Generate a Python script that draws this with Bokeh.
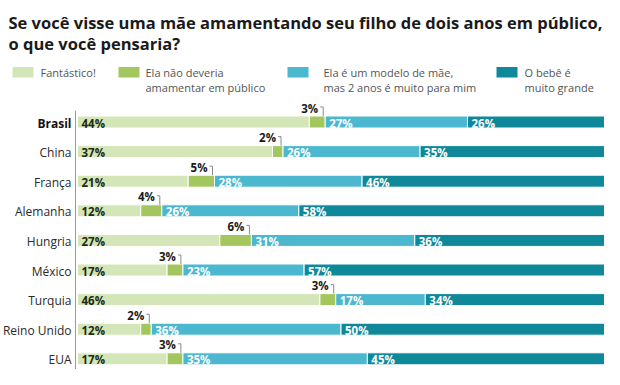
import numpy as np
from bokeh.plotting import figure
from bokeh.models import Range1d, ColumnDataSource
from bokeh.core.properties import value
from bokeh.embed import file_html
from bokeh.resources import INLINE

# ---------------- data ----------------
countries = ["Brasil", "China", "França", "Alemanha", "Hungria", "México",
             "Turquia", "Reino Unido", "EUA"]
fantastico = [44, 37, 21, 12, 27, 17, 46, 12, 17]
nao_deveria = [3, 2, 5, 4, 6, 3, 3, 2, 3]
modelo = [27, 26, 28, 26, 31, 23, 17, 36, 35]
grande = [26, 35, 46, 58, 36, 57, 34, 50, 45]

series_keys = ["fantastico", "nao_deveria", "modelo", "grande"]
series_lines = [["Fantástico!"],
                ["Ela não deveria", "amamentar em público"],
                ["Ela é um modelo de mãe,", "mas 2 anos é muito para mim"],
                ["O bebê é", "muito grande"]]
colors = ["#d4e6b7", "#a3c65e", "#4cb8cf", "#0f899a"]

title_lines = ["Se você visse uma mãe amamentando seu filho de dois anos em público,",
               "o que você pensaria?"]

# ---------------- layout ----------------
W, H = 604, 369
X0_PX = 77                  # frame x of 0%
X100_PX = 604               # frame x of 100%
PX_PER_PCT = (X100_PX - X0_PX) / 100
ROW0_PX = 121.5             # frame y of first row
ROW_STEP = 29.6             # pixels between rows
FONT = "Open Sans"

x_start = -X0_PX / PX_PER_PCT
x_end = 100 + (W - X100_PX) / PX_PER_PCT
y_bottom = (H - ROW0_PX) / ROW_STEP
y_top = -ROW0_PX / ROW_STEP
bar_h = 12 / ROW_STEP
px = 1 / PX_PER_PCT         # one pixel in percent units
py = 1 / ROW_STEP           # one pixel in row units

p = figure(width=W, height=H, x_range=Range1d(x_start, x_end),
           y_range=Range1d(y_bottom, y_top), output_backend="svg",
           toolbar_location=None, x_axis_location=None, y_axis_location=None,
           min_border=0, title=None)
p.outline_line_color = None
p.grid.visible = False
p.background_fill_color = "white"
p.extra_x_ranges = {"px": Range1d(0, W)}
p.extra_y_ranges = {"py": Range1d(H, 0)}

rows = list(range(len(countries)))
data = dict(y=rows, fantastico=fantastico, nao_deveria=nao_deveria,
            modelo=modelo, grande=grande)
src = ColumnDataSource(data)

p.hbar_stack(series_keys, y="y", height=bar_h, color=colors,
             line_color="white", line_width=1, source=src)

vals = np.array([fantastico, nao_deveria, modelo, grande], dtype=float)
starts = np.vstack([np.zeros(vals.shape[1]), np.cumsum(vals, axis=0)[:-1]])

# labels inside bars (all except the small green segment)
lab_x, lab_y, lab_t, lab_c = [], [], [], []
for k in [0, 2, 3]:
    for i in rows:
        lab_x.append(starts[k, i])
        lab_y.append(i)
        lab_t.append(f"{int(vals[k, i])}%")
        lab_c.append("#1e2a12" if k == 0 else "white")
p.text(x="x", y="y", text="t", text_color="c",
       source=ColumnDataSource(dict(x=lab_x, y=lab_y, t=lab_t, c=lab_c)),
       text_font=value(FONT), text_font_size="11.5px", text_font_style="bold",
       text_baseline="middle", text_align="left", x_offset=4, y_offset=1)

# labels above the green segment with bracket
g_end = starts[1] + vals[1]
label_row_off = 14 * py
p.text(x=list(g_end), y=[i - label_row_off for i in rows],
       text=[f"{v}%" for v in nao_deveria],
       text_font=value(FONT), text_font_size="11.5px", text_font_style="bold",
       text_color="#1a1a1a", text_baseline="middle", text_align="right",
       x_offset=-7)
xs = [[e - 5 * px, e - 2 * px, e - 2 * px] for e in g_end]
ys = [[i - label_row_off - 1 * py, i - label_row_off - 1 * py, i - bar_h / 2] for i in rows]
p.multi_line(xs, ys, line_color="#8a8a8a", line_width=1)

# country names
styles = ["bold" if c == "Brasil" else "normal" for c in countries]
tcolors = ["#111111" if c == "Brasil" else "#2a2a2a" for c in countries]
p.text(x=[71] * len(countries), y=rows, text=countries,
       x_range_name="px", text_font=value(FONT), text_font_size="12px",
       text_font_style=styles, text_color=tcolors,
       text_baseline="middle", text_align="right", y_offset=1)

# vertical axis line
p.segment(x0=[75], y0=[110], x1=[75], y1=[H], x_range_name="px",
          y_range_name="py", line_color="#9a9a9a", line_width=1)

# title
p.text(x=[8, 8], y=[21.7, 42.7], text=title_lines, x_range_name="px",
       y_range_name="py", text_font=value(FONT), text_font_size="16.5px",
       text_font_style="bold", text_color="#1a1a1a", text_baseline="alphabetic",
       text_align="left")

# legend
leg_sq_x = [12, 118, 287, 496]
leg_tx_x = [40, 145, 323, 524]
p.quad(left=leg_sq_x, right=[x + 21 for x in leg_sq_x], top=[66.5] * 4,
       bottom=[77] * 4, color=colors, line_color=None,
       x_range_name="px", y_range_name="py")
lx, ly, lt = [], [], []
for j, lines in enumerate(series_lines):
    for n, t in enumerate(lines):
        lx.append(leg_tx_x[j])
        ly.append(71.5 + 15.5 * n)
        lt.append(t)
p.text(x=lx, y=ly, text=lt, x_range_name="px", y_range_name="py",
       text_font=value(FONT), text_font_size="11px", text_color="#555555",
       text_baseline="middle", text_align="left")

open("out.html", "w").write(file_html(p, INLINE))
